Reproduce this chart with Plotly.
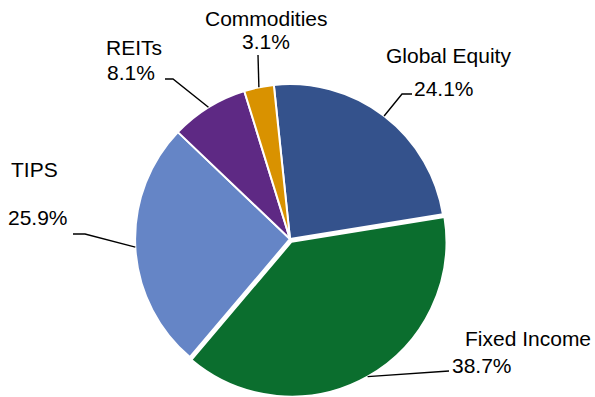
import math
import plotly.graph_objects as go

# Portfolio allocation (percent of total)
categories = ["Global Equity", "Fixed Income", "TIPS", "REITs", "Commodities"]
weights = [24.1, 38.7, 25.9, 8.1, 3.1]
colors = ["#34528C", "#0B6E2E", "#6585C6", "#5E2984", "#D99200"]
pulls = [0, 0.02, 0, 0, 0]

# Canvas / pie geometry (pixels)
W, H = 595, 397
CX = 290            # horizontal centre of the pie
PIE_BOX = 316       # height of the pie domain, measured up from the bottom edge
ROTATION = -6       # start angle of the first slice, clockwise from 12 o'clock

# Label placement (pixels): centre of the name, centre of the percentage,
# and the leader-line points that follow the slice edge point.
label_layout = {
    "Global Equity": dict(name=(448, 56), pct=(444, 88), path=[(402, 94), (412, 94)]),
    "Fixed Income": dict(name=(528, 338), pct=(482, 365), path=[(449, 371)]),
    "TIPS": dict(name=(34, 169), pct=(38, 217), path=[(85, 234), (73, 234)]),
    "REITs": dict(name=(134, 47), pct=(131, 72), path=[(173, 79), (165, 79)]),
    "Commodities": dict(name=(266, 19), pct=(266, 42), path=[(258, 55)]),
}

FONT = dict(family="Liberation Sans, Arial, sans-serif", size=21, color="#000000")


def px_to_paper(x, y):
    return x / W, 1 - y / H


fig = go.Figure()
dom_half_w = 210
fig.add_trace(go.Pie(
    labels=categories,
    values=weights,
    sort=False,
    direction="clockwise",
    rotation=ROTATION,
    pull=pulls,
    marker=dict(colors=colors, line=dict(color="#FFFFFF", width=2)),
    textinfo="none",
    hoverinfo="label+percent",
    showlegend=False,
    domain=dict(x=[(CX - dom_half_w) / W, (CX + dom_half_w) / W], y=[0, PIE_BOX / H]),
))

# Pie geometry as plotly computes it
r = PIE_BOX / (2 * (1 + max(pulls)))
cy = H - PIE_BOX / 2
total = sum(weights)

shapes = []
annotations = []
cum = 0.0
for name, w, pull in zip(categories, weights, pulls):
    mid = math.radians(ROTATION + 360 * (cum + w / 2) / total)
    cum += w
    reach = r * (1 + pull)
    ex, ey = CX + reach * math.sin(mid), cy - reach * math.cos(mid)
    spec = label_layout[name]
    pts = [(ex, ey)] + spec["path"]
    path = "M " + " L ".join(f"{px_to_paper(x, y)[0]:.5f},{px_to_paper(x, y)[1]:.5f}" for x, y in pts)
    shapes.append(dict(type="path", path=path, xref="paper", yref="paper",
                       line=dict(color="#000000", width=1.4)))
    for text, (tx, ty) in ((name, spec["name"]), (f"{w:.1f}%", spec["pct"])):
        px_, py_ = px_to_paper(tx, ty)
        annotations.append(dict(text=text, x=px_, y=py_, xref="paper", yref="paper",
                                xanchor="center", yanchor="middle", showarrow=False,
                                font=FONT))

fig.update_layout(
    width=W, height=H,
    margin=dict(l=0, r=0, t=0, b=0),
    paper_bgcolor="#FFFFFF",
    plot_bgcolor="#FFFFFF",
    shapes=shapes,
    annotations=annotations,
)

fig.write_html("out.html")
